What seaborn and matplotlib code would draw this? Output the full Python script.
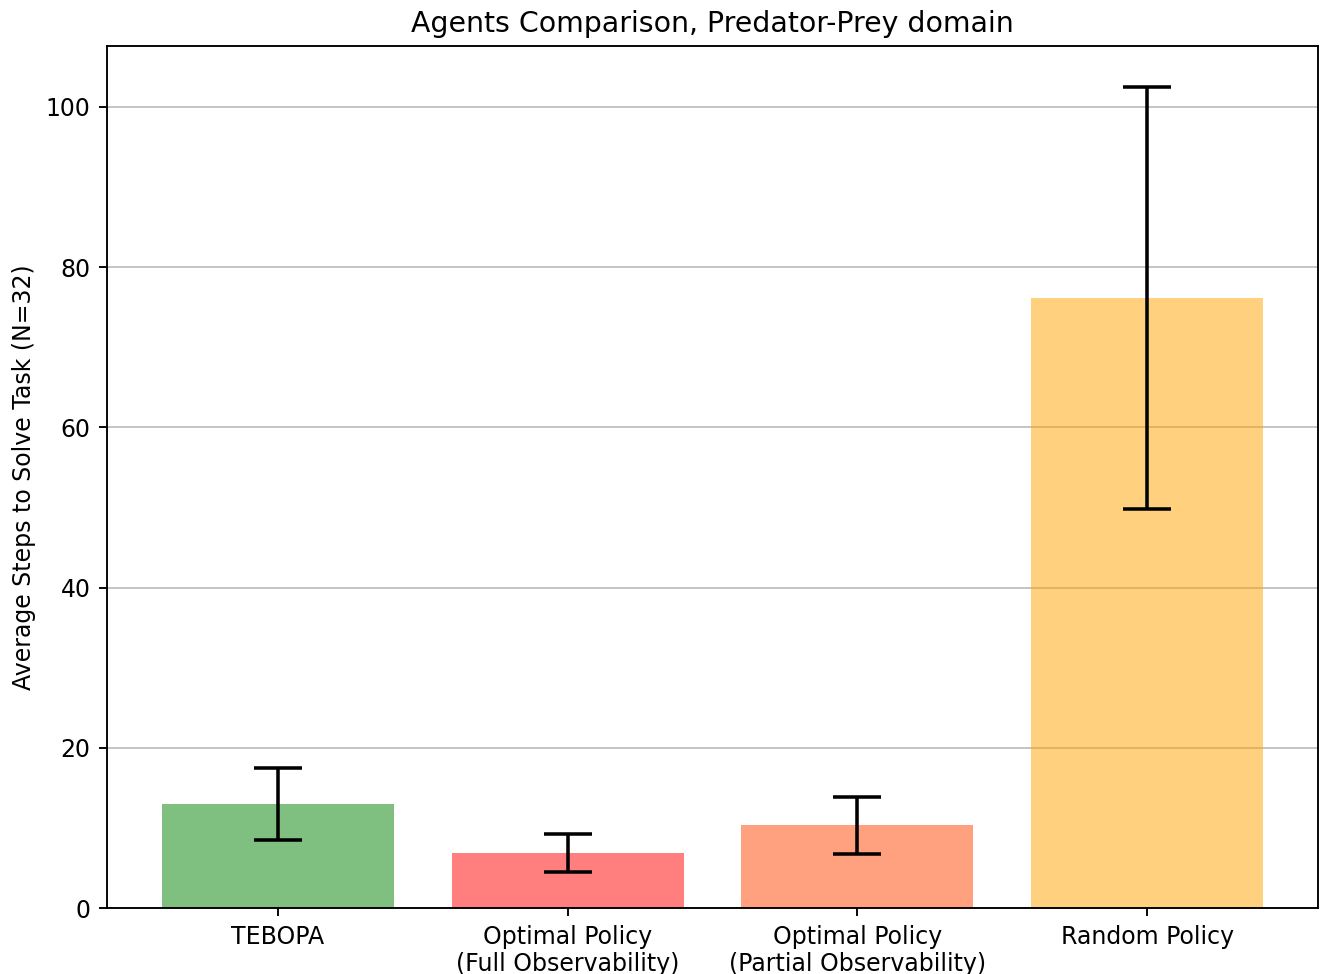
import matplotlib
matplotlib.use("Agg")
import matplotlib.pyplot as plt
import seaborn as sns
import pandas as pd

# Agents and their mean steps (with standard deviation) over N=32 runs
agents = [
    "TEBOPA",
    "Optimal Policy\n(Full Observability)",
    "Optimal Policy\n(Partial Observability)",
    "Random Policy",
]
mean_steps = [12.95, 6.85, 10.3, 76.1]
std_steps = [4.5, 2.37, 3.55, 26.35]
bar_colors = ["green", "red", "orangered", "orange"]

df = pd.DataFrame({"agent": agents, "steps": mean_steps})

dpi = 170
fig = plt.figure(figsize=(1324 / dpi, 974 / dpi), dpi=dpi)
ax = fig.add_axes([107 / 1324, 66 / 974, (1318 - 107) / 1324, (908 - 46) / 974])

ax.set_axisbelow(True)
ax.yaxis.grid(True, color="#c2c2c2", linewidth=0.8)

sns.barplot(
    data=df, x="agent", y="steps", hue="agent", palette=bar_colors,
    alpha=0.5, saturation=1, errorbar=None, width=0.8, legend=False, ax=ax,
)
ax.errorbar(
    range(len(agents)), mean_steps, yerr=std_steps, fmt="none",
    ecolor="black", elinewidth=1.5, capsize=10, capthick=1.5,
)

ax.set_xlim(-0.59, len(agents) - 1 + 0.59)
ax.set_ylim(0, 107.6)
ax.set_xlabel("")
ax.set_ylabel("Average Steps to Solve Task (N=32)", fontsize=10)
ax.set_title("Agents Comparison, Predator-Prey domain", fontsize=12)
ax.tick_params(labelsize=10)
ax.xaxis.grid(False)
for s in ax.spines.values():
    s.set_visible(True)
    s.set_color("black")

fig.savefig("out.png", dpi=dpi)
